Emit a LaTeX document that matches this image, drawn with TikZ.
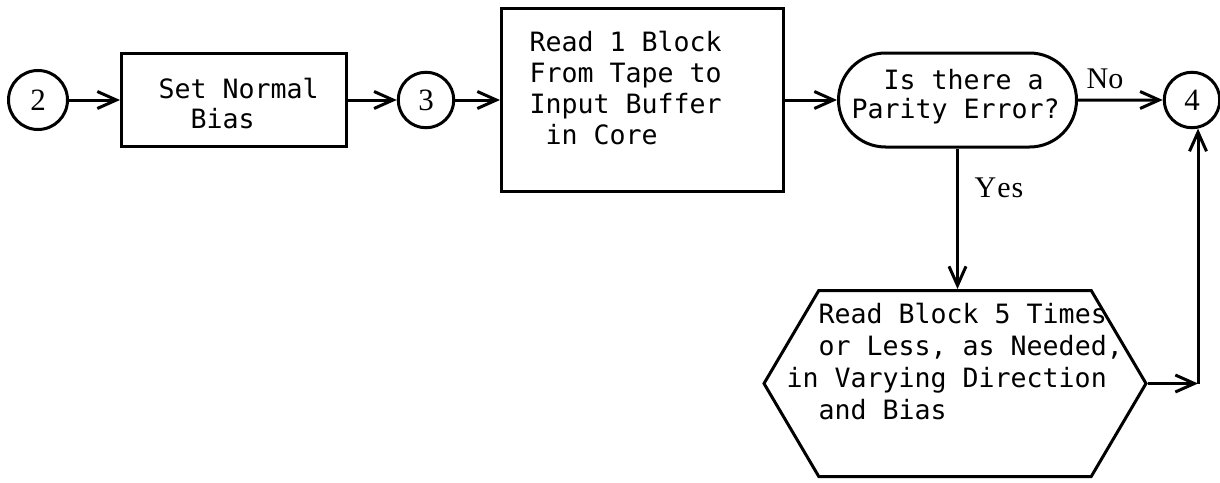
\documentclass[tikz,border=0pt]{standalone}
\usepackage{fontspec}
\setmainfont{Liberation Serif}
\newfontfamily\monofont{DejaVu Sans Mono}
\usetikzlibrary{arrows.meta,shapes.misc,shapes.symbols}
\begin{document}
\begin{tikzpicture}[x=0.5pt,y=-0.5pt,line width=1.5pt,
  conn/.style={draw,-{Straight Barb[length=9.5pt,width=8.5pt]}},
  circ/.style={draw,circle,inner sep=0pt,minimum size=#1,font=\fontsize{15.5}{15.5}\selectfont},
  procbox/.style={draw,rectangle,inner sep=0pt},
  decision/.style={draw,rounded rectangle,inner sep=0pt},
  hexbox/.style={draw,signal,signal to=east and west,signal pointer angle=119,inner sep=0pt},
  txt/.style={anchor=north west,inner sep=0pt,align=left,font=\monofont\fontsize{13.3}{#1}\selectfont},
  lbl/.style={inner sep=0pt,font=\fontsize{15}{15}\selectfont}]
\useasboundingbox (0,0) rectangle (1220,482);
% shapes
\node[circ=29.5pt] (c2) at (38,100) {2};
\node[procbox,minimum width=112.5pt,minimum height=46.5pt] (sb) at (234,100) {};
\node[circ=27.75pt] (c3) at (426,100) {3};
\node[procbox,minimum width=141pt,minimum height=91.5pt] (rb) at (642.5,100) {};
\node[decision,minimum width=119pt,minimum height=47pt] (st) at (957.5,100) {};
\node[circ=27.75pt] (c4) at (1192,100) {4};
\node[hexbox,minimum width=191pt,minimum height=93pt] (hx) at (955,383.5) {};
\coordinate (j) at (1198,383.5);
% texts
\node[txt=15pt] (sbt) at (157,77) {Set Normal\\\phantom{xx}Bias};
\node[txt=15.5pt] (rbt) at (528,30) {Read 1 Block\\From Tape to\\Input Buffer\\\phantom{x}in Core};
\node[txt=14.5pt] (stt) at (850,68) {\phantom{xx}Is there a\\Parity Error?};
\node[txt=16pt] (hxt) at (785,302) {\phantom{xx}Read Block 5 Times\\\phantom{xx}or Less, as Needed,\\in Varying Direction\\\phantom{xx}and Bias};
\node[lbl] (no) at (1105,79) {No};
\node[lbl] (yes) at (999,188) {Y\kern0.5pt e\kern0.5pt s};
% connectors
\draw[conn] (c2) -- (sb);
\draw[conn] (sb) -- (c3);
\draw[conn] (c3) -- (rb);
\draw[conn] (rb) -- (st);
\draw[conn] (st) -- (c4);
\draw[conn] (st.south) -- (st.south |- hx.north);
\draw[conn] (hx.east) -- (j);
\draw[conn] (j) -- (c4.-78 -| j);
\end{tikzpicture}
\end{document}
